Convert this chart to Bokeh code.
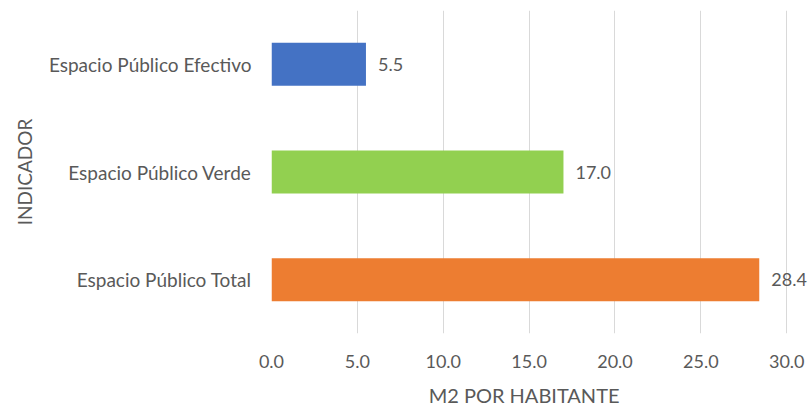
from bokeh.plotting import figure
from bokeh.models import ColumnDataSource, FactorRange, Range1d, FixedTicker, CustomJSTickFormatter
from bokeh.core.properties import value
from bokeh.embed import file_html
from bokeh.resources import INLINE

categories = ["Espacio Público Total", "Espacio Público Verde", "Espacio Público Efectivo"]
values = [28.4, 17.0, 5.5]
colors = ["#ED7D31", "#92D050", "#4472C4"]
labels = ["28.4", "17.0", "5.5"]
x_ticks = [0, 5, 10, 15, 20, 25, 30]

FONT = "Lato"
GREY = "#595959"

source = ColumnDataSource(dict(cat=categories, val=values, color=colors, label=labels))

p = figure(width=812, height=409, output_backend="svg", toolbar_location=None,
           y_range=FactorRange(factors=categories), x_range=Range1d(0, 31.5))
p.min_border_left = 271
p.min_border_right = 0
p.min_border_top = 10
p.min_border_bottom = 75
p.outline_line_color = None
p.background_fill_color = "white"
p.border_fill_color = "white"

p.hbar(y="cat", right="val", left=0, height=0.4, color="color", line_color=None, source=source)
p.text(x="val", y="cat", text="label", source=source, x_offset=12,
       text_align="left", text_baseline="middle", text_color=GREY,
       text_font=value(FONT), text_font_size="18px")

p.xaxis.ticker = FixedTicker(ticks=x_ticks)
p.xaxis.formatter = CustomJSTickFormatter(code="return tick.toFixed(1);")
# trailing no-break spaces keep the title centred under the 0-30 plot area
p.xaxis.axis_label = "M2 POR HABITANTE" + "\u00a0" * 7
p.yaxis.axis_label = "INDICADOR"
for ax in (p.xaxis, p.yaxis):
    ax.axis_line_color = None
    ax.major_tick_line_color = None
    ax.minor_tick_line_color = None
    ax.major_tick_out = 0
    ax.major_tick_in = 0
    ax.major_label_text_font = FONT
    ax.major_label_text_color = GREY
    ax.axis_label_text_font = FONT
    ax.axis_label_text_color = GREY
    ax.axis_label_text_font_style = "normal"
p.xaxis.major_label_text_font_size = "18px"
p.xaxis.axis_label_text_font_size = "20px"
p.yaxis.major_label_text_font_size = "19px"
p.yaxis.axis_label_text_font_size = "19px"
p.xaxis.major_label_standoff = 21
p.xaxis.axis_label_standoff = 12
p.yaxis.major_label_standoff = 20
p.yaxis.axis_label_standoff = 10

p.xgrid.grid_line_color = "#D9D9D9"
p.xgrid.grid_line_width = 1
p.ygrid.grid_line_color = None

open("out.html", "w").write(file_html(p, INLINE))
